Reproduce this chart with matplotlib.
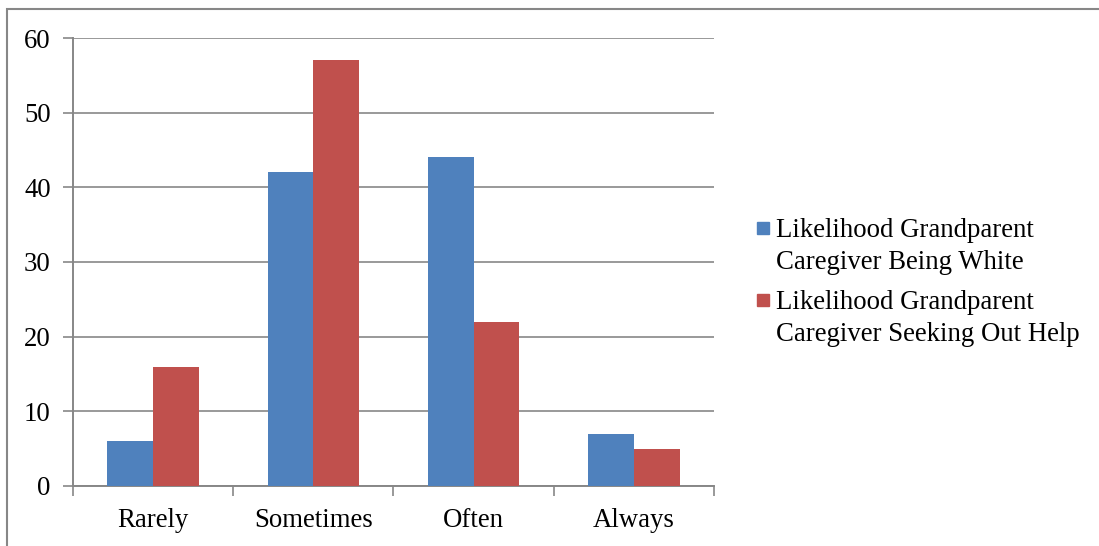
import numpy as np
import matplotlib.pyplot as plt
from matplotlib.patches import Rectangle

categories = ["Rarely", "Sometimes", "Often", "Always"]
white = [6, 42, 44, 7]
seeking_help = [16, 57, 22, 5]
series_names = [["Likelihood Grandparent", "Caregiver Being White"],
                ["Likelihood Grandparent", "Caregiver Seeking Out Help"]]
colors = ["#4F81BD", "#C0504D"]

plt.rcParams['font.family'] = ['Liberation Serif', 'DejaVu Serif']
grey = "#878787"
fs = 19.3

fig = plt.figure(figsize=(10.99, 5.46), dpi=100)
ax = fig.add_axes([0.0664, 0.1099, 0.5833, 0.8205])

x = np.arange(len(categories))
w = 0.285
ax.bar(x - w / 2, white, w, color=colors[0], zorder=3)
ax.bar(x + w / 2, seeking_help, w, color=colors[1], zorder=3)

ax.set_xlim(-0.5, len(categories) - 0.5)
ax.set_ylim(0, 60)
ax.set_yticks(range(0, 61, 10))
ax.grid(axis="y", color=grey, linewidth=1.2, zorder=0)

# category boundaries get the tick marks, centres get the labels
ax.set_xticks(np.arange(-0.5, len(categories), 1.0))
ax.set_xticklabels([])
ax.set_xticks(x, minor=True)
ax.set_xticklabels(categories, minor=True, fontsize=fs)
ax.tick_params(axis="x", which="major", length=7, color=grey, width=1.2, direction="out")
ax.tick_params(axis="x", which="minor", length=0, pad=16)
ax.tick_params(axis="y", length=7, color=grey, width=1.2, labelsize=fs, pad=9)
for lbl in ax.get_yticklabels():
    lbl.set_va("center_baseline")

for side in ["top", "right"]:
    ax.spines[side].set_visible(False)
for side in ["left", "bottom"]:
    ax.spines[side].set_color(grey)
    ax.spines[side].set_linewidth(1.4)

# legend drawn by hand so the swatch sits on the first text line
W, H = 1099, 546
for i, (lines, c) in enumerate(zip(series_names, colors)):
    base = 237 + i * 72
    fig.patches.append(Rectangle((757 / W, 1 - (base - 3) / H), 12 / W, 12 / H,
                                 transform=fig.transFigure, color=c))
    for j, line in enumerate(lines):
        fig.text(776 / W, 1 - (base + j * 32) / H, line, fontsize=fs,
                 va="baseline", ha="left")

# outer chart border
fig.patches.append(Rectangle((7 / W, -0.02), 1.1, 1 - 9 / H + 0.02,
                             transform=fig.transFigure, fill=False,
                             edgecolor=grey, linewidth=1.5))

fig.savefig("out.png", dpi=100)
